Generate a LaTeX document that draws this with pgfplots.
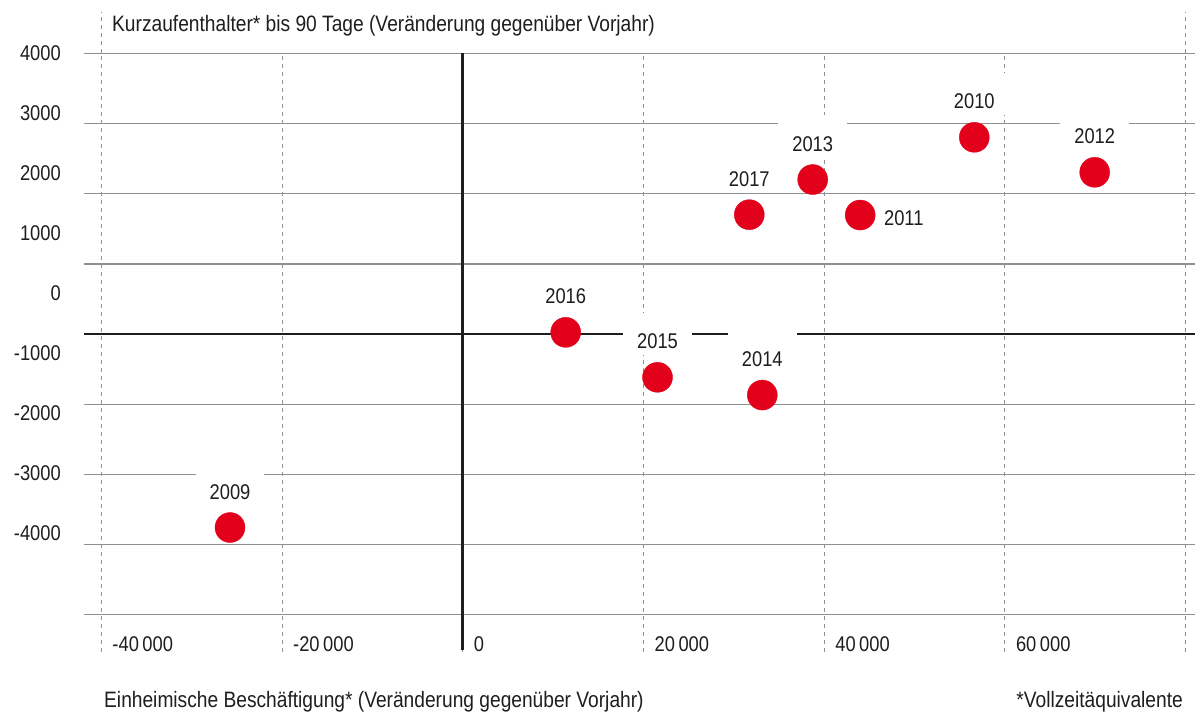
\documentclass[border=0pt]{standalone}
\usepackage{fontspec}
\setmainfont{Liberation Sans}[FakeStretch=0.86]
\usepackage{pgfplots}
\pgfplotsset{compat=1.18}
\definecolor{pred}{HTML}{E2001A}
\definecolor{gridc}{HTML}{909090}
\definecolor{txt}{HTML}{1E1E1E}

\pgfplotstableread{
x y label
-25754 -2758 2009
56621 2804 2010
69946 2305 2012
38736 2202 2013
33158 -870 2014
21560 -617 2015
11400 24 2016
31719 1701 2017
}\labeled
\pgfplotstableread{
x y label
43993 1696 2011
}\rightlab

\begin{document}
\begin{tikzpicture}[font=\fontsize{21.3pt}{25pt}\selectfont, text=txt]
\begin{axis}[
 scale only axis, width=1111pt, height=598.6pt,
 xmin=-41913, xmax=81048, ymin=-4533, ymax=4000,
 clip=false,
 scaled x ticks=false, scaled y ticks=false,
 axis line style={draw=none},
 major tick length=0pt,
 tick style={draw=none},
 xtick={-40000,-20000,0,20000,40000,60000,80000},
 xticklabels={-40\,000,-20\,000,0,20\,000,40\,000,60\,000,{}},
 xmajorgrids,
 x grid style={gridc, dash pattern=on 4pt off 4pt, line width=0.9pt},
 ytick={3999,3143,2288,1433,577,-278,-1133,-1989,-2844},
 yticklabels={4000,3000,2000,1000,0,-1000,-2000,-3000,-4000},
 extra y ticks={-4000,-3000,-2000,-1000,1000,2000,3000,4000},
 extra y tick labels={},
 extra y tick style={ymajorgrids=true},
 y grid style={gridc, line width=1.3pt},
 xticklabel style={anchor=base west, inner sep=0pt, xshift=11pt, yshift=1pt, text=txt},
 yticklabel style={anchor=east, inner sep=0pt, xshift=-23pt, text=txt},
]
\coordinate (bl) at (rel axis cs:0,0);
\coordinate (tr) at (rel axis cs:1,1);
\draw[gridc, dash pattern=on 4pt off 4pt, line width=0.9pt] (axis cs:-40000,4000) -- (axis cs:-40000,4590);
\draw[gridc, dash pattern=on 4pt off 4pt, line width=0.9pt] (axis cs:80000,4000) -- (axis cs:80000,4590);
\draw[txt, line width=2.6pt] (axis cs:-41913,0) -- (axis cs:81048,0);
\draw[txt, line width=2.6pt] (axis cs:0,-4500) -- (axis cs:0,4000);

\addplot[only marks, mark=*, mark size=15pt, color=pred, mark options={draw=none, fill=pred},
  nodes near coords, point meta=explicit symbolic,
  every node near coord/.append style={anchor=base, yshift=28.5pt, fill=white, inner xsep=14pt, inner ysep=0pt, text height=36pt, text depth=6.5pt, text=txt, font=\fontsize{21.3pt}{25pt}\selectfont}]
  table[x=x, y=y, meta=label] {\labeled};
\addplot[only marks, mark=*, mark size=15pt, color=pred, mark options={draw=none, fill=pred},
  nodes near coords, point meta=explicit symbolic,
  every node near coord/.append style={anchor=base west, xshift=23.7pt, yshift=-10pt, inner sep=0pt, text=txt, font=\fontsize{21.3pt}{25pt}\selectfont}]
  table[x=x, y=y, meta=label] {\rightlab};

\node[anchor=base west, inner sep=0pt, xshift=28pt, yshift=21.4pt, fill=white, font=\fontsize{22.3pt}{26pt}\selectfont] at (rel axis cs:0,1) {Kurzaufenthalter* bis 90 Tage (Veränderung gegenüber Vorjahr)};
\node[anchor=base west, inner sep=0pt, xshift=20pt, yshift=-55pt, font=\fontsize{22.3pt}{26pt}\selectfont] at (rel axis cs:0,0) {Einheimische Beschäftigung* (Veränderung gegenüber Vorjahr)};
\node[anchor=base east, inner sep=0pt, xshift=-12pt, yshift=-55pt, font=\fontsize{22.3pt}{26pt}\selectfont] at (rel axis cs:1,0) {*Vollzeitäquivalente};
\end{axis}
\pgfresetboundingbox
\path[use as bounding box] ([xshift=-84pt,yshift=-61pt]bl) rectangle ([yshift=53.4pt]tr);
\end{tikzpicture}
\end{document}
